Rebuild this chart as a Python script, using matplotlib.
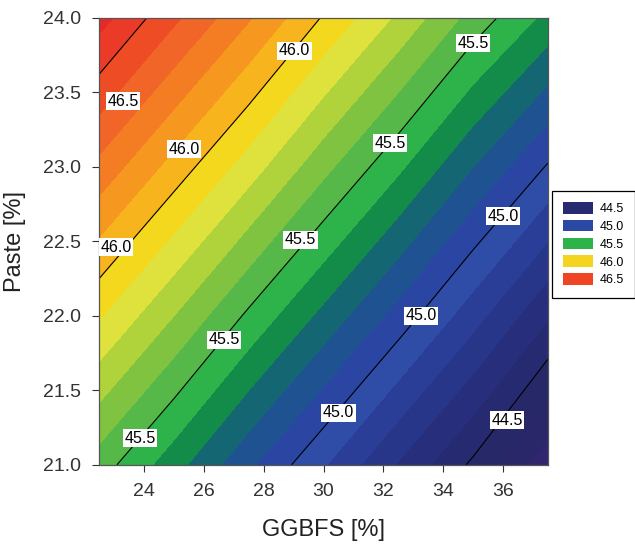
import numpy as np
import matplotlib
matplotlib.use("Agg")
from matplotlib import pyplot as plt
from matplotlib.patches import Patch

plt.rcParams["font.family"] = ["Liberation Sans", "DejaVu Sans"]

# response surface (rows = paste, cols = ggbfs)
ggbfs = [22.5, 25.0, 27.5, 30.0, 32.5, 35.0, 37.5]
paste = [21.0, 22.0, 23.0, 24.0]
z = [
    [45.55, 45.34, 45.12, 44.91, 44.69, 44.48, 44.23],
    [45.91, 45.70, 45.48, 45.27, 45.06, 44.84, 44.61],
    [46.27, 46.06, 45.85, 45.63, 45.42, 45.20, 44.99],
    [46.64, 46.42, 46.21, 45.99, 45.78, 45.56, 45.37],
]

# filled bands every 0.1
band_levels = [44.1, 44.2, 44.3, 44.4, 44.5, 44.6, 44.7, 44.8, 44.9, 45.0,
               45.1, 45.2, 45.3, 45.4, 45.5, 45.6, 45.7, 45.8, 45.9, 46.0,
               46.1, 46.2, 46.3, 46.4, 46.5, 46.6, 46.7]
band_colors = ["#36247a", "#30256f", "#2a266a", "#262868", "#262a70",
               "#272f7c", "#28368a", "#2a3e98", "#2f4ca6", "#2a46a2",
               "#1f5290", "#146672", "#128c48", "#2db34a", "#55b848",
               "#80c341", "#b0d23b", "#dfe23c", "#f3d81e", "#f7b41c",
               "#f6981f", "#f47d23", "#f16628", "#ee4c25", "#eb3a27",
               "#e62a2a"]

line_levels = [44.5, 45.0, 45.5, 46.0, 46.5]

# contour label text and where it sits
label_text = ["46.5", "46.0", "46.0", "46.0", "45.5", "45.5", "45.5",
              "45.5", "45.5", "45.0", "45.0", "45.0", "44.5"]
label_x = [23.3, 29.03, 25.33, 23.07, 35.0, 32.23, 29.23, 26.67, 23.87,
           36.0, 33.27, 30.5, 36.13]
label_y = [23.44, 23.78, 23.12, 22.46, 23.83, 23.16, 22.51, 21.84, 21.18,
           22.67, 22.0, 21.35, 21.3]

legend_labels = ["44.5", "45.0", "45.5", "46.0", "46.5"]
legend_colors = ["#272a6e", "#2b48a4", "#2db34a", "#f4d41f", "#ef4524"]

fig = plt.figure(figsize=(6.35, 5.45), dpi=100)
ax = fig.add_axes([0.156, 0.147, 0.707, 0.820])

X, Y = np.meshgrid(ggbfs, paste)
Z = np.array(z)
ax.contourf(X, Y, Z, levels=band_levels, colors=band_colors)
ax.contour(X, Y, Z, levels=line_levels, colors="black", linewidths=0.8)

for t, x, y in zip(label_text, label_x, label_y):
    ax.text(x, y, t, fontsize=11.5, ha="center", va="center", color="black",
            bbox=dict(facecolor="white", edgecolor="none", pad=1.0), zorder=5)

ax.set_xlim(22.5, 37.5)
ax.set_ylim(21.0, 24.0)
ax.set_xticks([24, 26, 28, 30, 32, 34, 36])
ax.set_yticks([21.0, 21.5, 22.0, 22.5, 23.0, 23.5, 24.0])
ax.set_yticklabels(["%.1f" % v for v in [21.0, 21.5, 22.0, 22.5, 23.0, 23.5, 24.0]])
ax.tick_params(direction="out", length=5, width=0.8, labelsize=14,
               colors="#333333", pad=8)
for s in ax.spines.values():
    s.set_color("#555555")
    s.set_linewidth(0.9)

ax.set_xlabel("GGBFS [%]", fontsize=17, color="#222222", labelpad=14)
ax.set_ylabel("Paste [%]", fontsize=17, color="#222222", labelpad=12)

handles = [Patch(facecolor=c, edgecolor="none") for c in legend_colors]
leg = fig.legend(handles, legend_labels, loc="center left",
                 bbox_to_anchor=(0.869, 0.552), fontsize=9,
                 handlelength=2.4, handleheight=1.05, labelspacing=0.38,
                 handletextpad=0.5, borderpad=0.9, borderaxespad=0,
                 fancybox=False, framealpha=1)
leg.get_frame().set_edgecolor("black")
leg.get_frame().set_linewidth(0.9)

fig.savefig("out.png", dpi=100)
